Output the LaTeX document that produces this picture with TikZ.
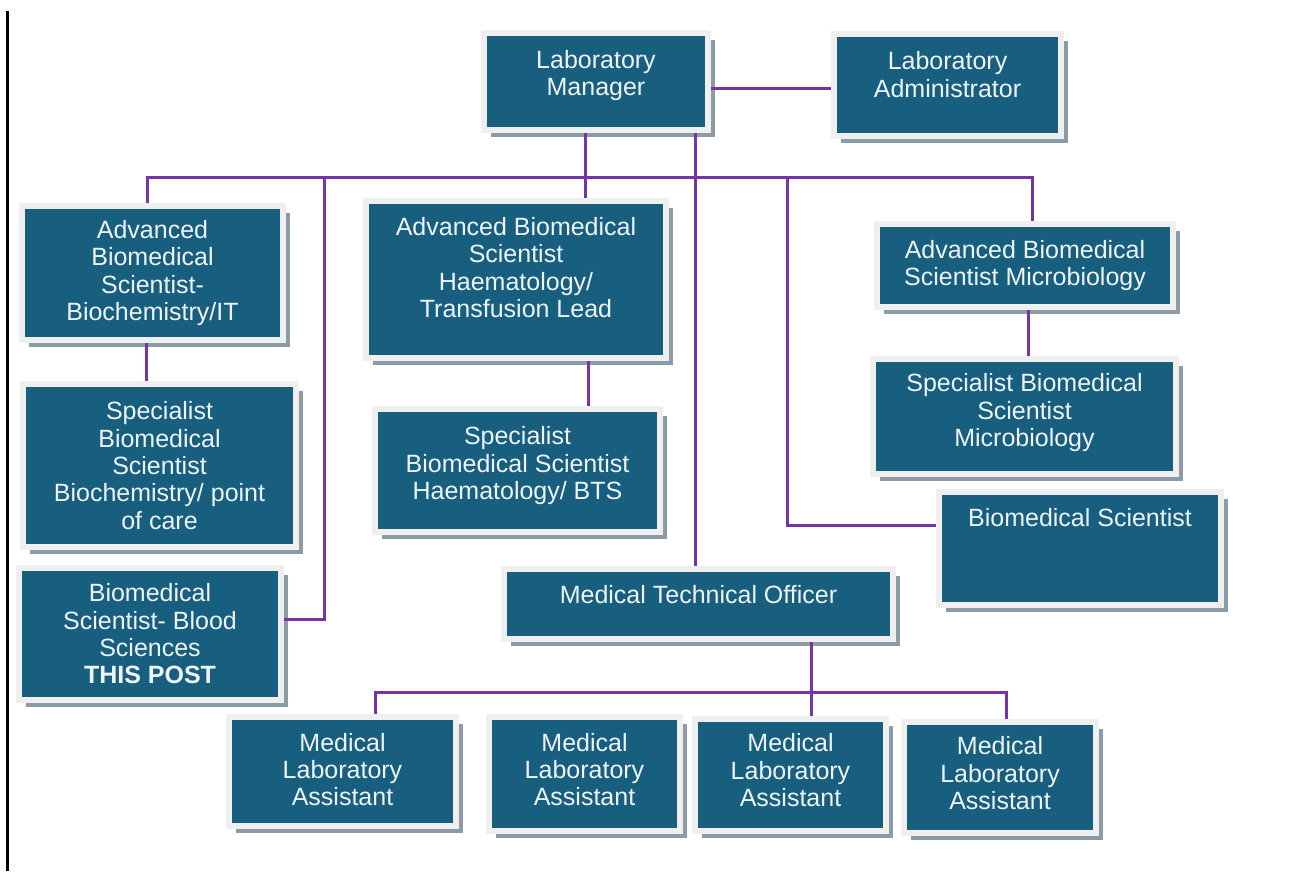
\documentclass[tikz,border=0pt]{standalone}
\usepackage{fontspec}
\setmainfont{Liberation Sans}
\usetikzlibrary{shadows}

\definecolor{postblue}{HTML}{175E7F}
\definecolor{postframe}{HTML}{EFEFEF}
\definecolor{postshade}{HTML}{8C9CA6}
\definecolor{posttext}{HTML}{EEF3F5}
\definecolor{linkpurple}{HTML}{7634A6}

% deepens the last line so the text sits higher in its box
\newcommand{\lowpad}[1]{\rule[-#1]{0pt}{0pt}}

\begin{document}
\begin{tikzpicture}[x=1pt,y=-1pt,
    post/.style={rectangle,fill=postblue,draw=postframe,line width=6pt,
      text=posttext,align=center,inner sep=2pt,
      font=\fontsize{25}{27.3}\selectfont,
      drop shadow={shadow xshift=7pt,shadow yshift=-7pt,fill=postshade,opacity=1}},
    link/.style={draw=linkpurple,line width=3pt}]

  \useasboundingbox (0,0) rectangle (1309,871);
  \draw[line width=3pt] (7,11) -- (7,871);

  \begin{scope}[every node/.style={post}]
    \node[minimum width=224pt,minimum height=97pt]  (mgr)       at (596,81.5)    {Laboratory\\Manager\lowpad{17pt}};
    \node[minimum width=227pt,minimum height=102pt] (admin)     at (947.5,85)    {Laboratory\\Administrator\lowpad{21pt}};
    \node[minimum width=261pt,minimum height=134pt] (advbio)    at (152.5,273)   {Advanced\\Biomedical\\Scientist-\\Biochemistry/IT};
    \node[minimum width=273pt,minimum height=163pt] (specbio)   at (159.5,465.5) {Specialist\\Biomedical\\Scientist\\Biochemistry/ point\\of care};
    \node[minimum width=262pt,minimum height=132pt] (bmsblood)  at (150,634)     {Biomedical\\Scientist- Blood\\Sciences\\\textbf{THIS POST}};
    \node[minimum width=300pt,minimum height=157pt] (advhaem)   at (516,279.5)   {Advanced Biomedical\\Scientist\\Haematology/\\Transfusion Lead\lowpad{24pt}};
    \node[minimum width=285pt,minimum height=123pt] (spechaem)  at (517.5,470.5) {Specialist\\Biomedical Scientist\\Haematology/ BTS\lowpad{15pt}};
    \node[minimum width=296pt,minimum height=83pt]  (advmicro)  at (1025,265.5)  {Advanced Biomedical\\Scientist Microbiology};
    \node[minimum width=303pt,minimum height=115pt] (specmicro) at (1024.5,416.5) {Specialist Biomedical\\Scientist\\Microbiology\lowpad{13pt}};
    \node[minimum width=282pt,minimum height=113pt] (bms)       at (1080,548.5)  {Biomedical Scientist\\[34pt]\mbox{}};
    \node[minimum width=389pt,minimum height=70pt]  (mto)       at (698.5,604)   {Medical Technical Officer\lowpad{20pt}};
    \node[minimum width=227pt,minimum height=109pt] (mla1)      at (342.5,771.5) {Medical\\Laboratory\\Assistant\lowpad{4pt}};
    \node[minimum width=191pt,minimum height=114pt] (mla2)      at (584.5,774)   {Medical\\Laboratory\\Assistant\lowpad{9pt}};
    \node[minimum width=191pt,minimum height=112pt] (mla3)      at (790.5,775)   {Medical\\Laboratory\\Assistant\lowpad{10pt}};
    \node[minimum width=192pt,minimum height=111pt] (mla4)      at (1000,777.5)  {Medical\\Laboratory\\Assistant\lowpad{9pt}};
  \end{scope}

  \coordinate (bus)    at (585,177);
  \coordinate (mlabus) at (811,692);

  \begin{scope}[every path/.style={link}]
    \path (mgr.east |- 0,88) edge (admin.west |- 0,88);
    \path (mgr.south -| bus) edge (advhaem.north -| bus);
    \path (mgr.south -| 695,0) edge (mto.north -| 695,0);
    \draw ([xshift=-5.5pt]advbio.north) |- (bus) -| ([xshift=7pt]advmicro.north);
    \draw (bus -| 324,0) |- (bmsblood.east |- 0,619);
    \draw (bus -| 787,0) |- (bms.west |- 0,525);
    \path (advbio.south -| 146,0) edge (specbio.north -| 146,0);
    \path (advhaem.south -| 588,0) edge (spechaem.north -| 588,0);
    \path (advmicro.south -| 1028,0) edge (specmicro.north -| 1028,0);
    \path (mto.south -| mlabus) edge (mla3.north -| mlabus);
    \draw (mla1.north -| 375,0) |- (mlabus) -| (mla4.north -| 1006,0);
  \end{scope}

\end{tikzpicture}
\end{document}
